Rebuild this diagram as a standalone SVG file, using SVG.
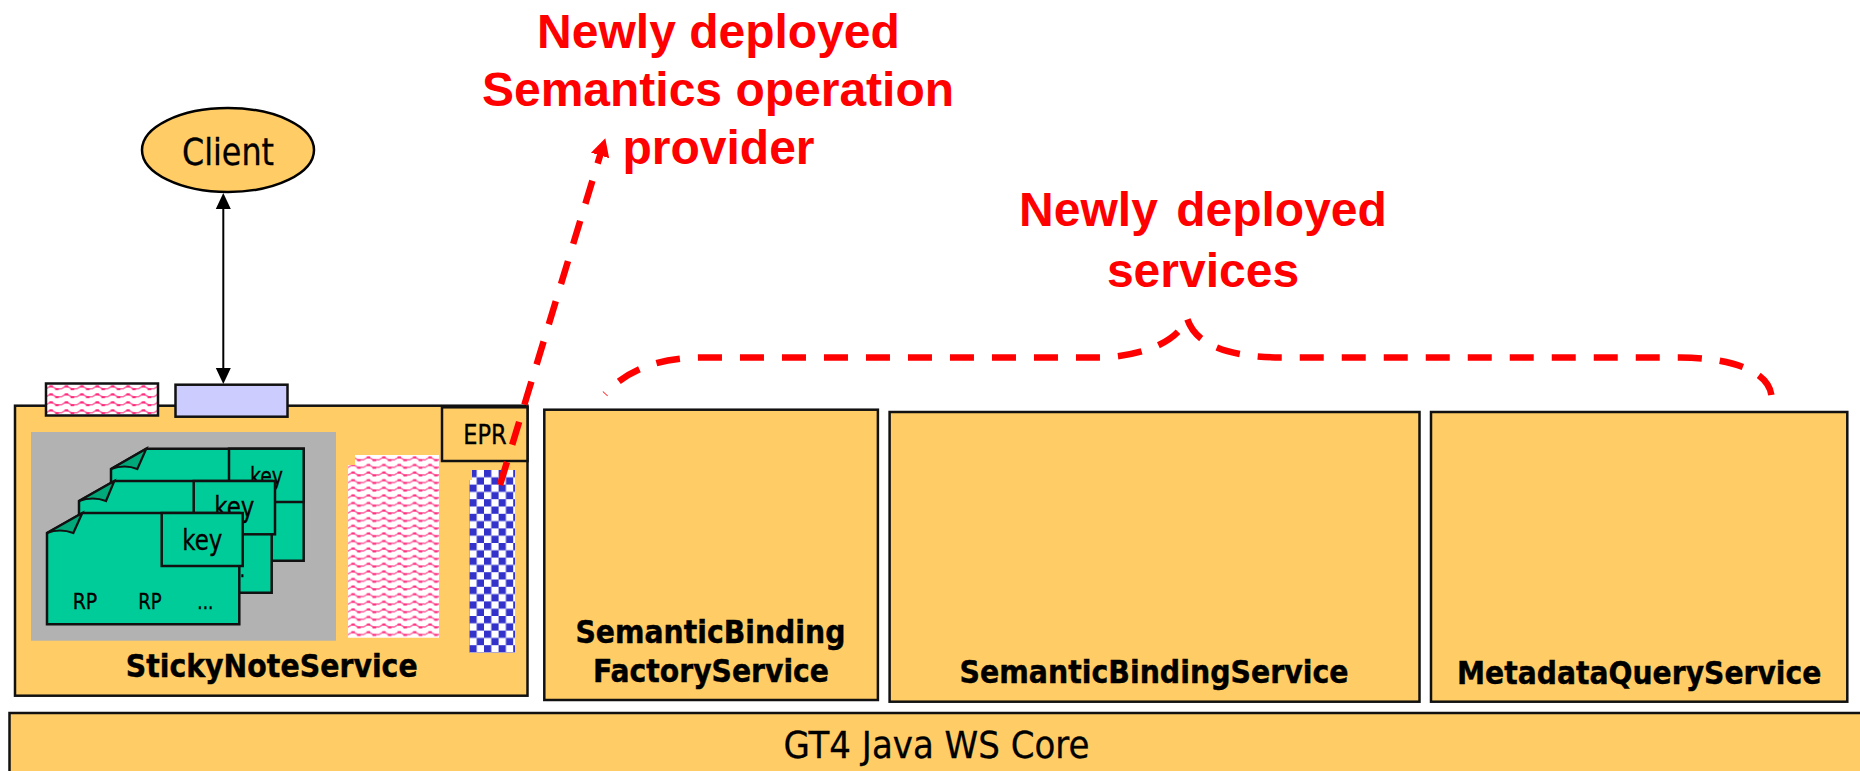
<svg xmlns="http://www.w3.org/2000/svg" width="1860" height="771" viewBox="0 0 1860 771">
<style>
.box{fill:#ffcc66;stroke:#111;stroke-width:2.5}
.note{fill:#00cc99;stroke:#111;stroke-width:2.5;stroke-linejoin:miter}
.fold{fill:#00a87a;stroke:#111;stroke-width:2.2}
.t{font-family:"DejaVu Sans Condensed","DejaVu Sans",sans-serif;fill:#000;stroke:#000;stroke-width:.3}
.b{font-family:"DejaVu Sans Condensed","DejaVu Sans",sans-serif;font-weight:700;font-size:32.5px;fill:#000;stroke:#000;stroke-width:.4}
.r{font-family:"Liberation Sans",Arial,sans-serif;font-weight:700;font-size:48px;fill:#ff0000;text-anchor:middle}
.dash{fill:none;stroke:#ff0000;stroke-width:6.5;stroke-dasharray:24 18}
.wl{fill:none;stroke:#ff70a6;stroke-width:1.6}
.wd{fill:#ff2a7f}
</style>
<defs>
<g id="w">
<path class="wl" d="M-1 5C1.5 5 2.5 2.4 5 2.4S8.5 5 11 5S13.5 4.2 16.4 5"/>
<rect class="wd" x="3.4" y="1.4" width="3.4" height="2"/>
<rect class="wd" x="9.2" y="4.2" width="3.6" height="2"/>
</g>
<pattern id="wave" patternUnits="userSpaceOnUse" width="15.4" height="7.6" patternTransform="translate(348,455)">
<rect width="15.4" height="7.6" fill="#fff"/>
<use href="#w"/>
</pattern>
<pattern id="wave2" patternUnits="userSpaceOnUse" width="15.4" height="8" patternTransform="translate(46,384)">
<rect width="15.4" height="8" fill="#fff"/>
<use href="#w"/>
</pattern>
<pattern id="check" patternUnits="userSpaceOnUse" width="14.6" height="14.6" patternTransform="translate(484,470)">
<rect width="14.6" height="14.6" fill="#fff"/>
<rect width="7.3" height="7.3" fill="#3333cc"/>
<rect x="7.3" y="7.3" width="7.3" height="7.3" fill="#3333cc"/>
</pattern>
<marker id="blk" markerUnits="userSpaceOnUse" markerWidth="16" markerHeight="16" refX="1" refY="8" orient="auto-start-reverse" viewBox="0 0 16 16">
<path d="M0 0.5L16 8L0 15.5Z" fill="#000"/>
</marker>
<marker id="red" markerUnits="userSpaceOnUse" markerWidth="18" markerHeight="19" refX="1" refY="9.5" orient="auto" viewBox="0 0 18 19">
<path d="M0 0L18 9.5L0 19Z" fill="#ff0000"/>
</marker>
</defs>
<rect width="1860" height="771" fill="#fff"/>

<g id="core">
<rect class="box" x="9.5" y="713" width="1870" height="80"/>
<text class="t" x="783.5" y="757.5" font-size="38" textLength="306" lengthAdjust="spacingAndGlyphs">GT4 Java WS Core</text>
</g>

<g id="sticky-note-service">
<rect class="box" x="15" y="405.7" width="512.5" height="290"/>
<rect x="31" y="432" width="305" height="208.7" fill="#b2b2b2"/>
<text class="b" x="125.7" y="677.3" textLength="292" lengthAdjust="spacingAndGlyphs">StickyNoteService</text>
</g>

<g id="note-back">
<path class="note" d="M111 469L146.3 448.7H303.7V560.7H111Z"/>
<path class="fold" d="M111 469L146.3 448.7L137.3 469Q125 464 111 469Z"/>
<rect class="note" x="229" y="448.7" width="74.7" height="53.3"/>
<text class="t" x="250" y="485" font-size="24" textLength="33" lengthAdjust="spacingAndGlyphs">key</text>
</g>
<g id="note-middle">
<path class="note" d="M79 501L114.3 481H271.7V592.7H79Z"/>
<path class="fold" d="M79 501L114.3 481L106 501Q93 496 79 501Z"/>
<text class="t" x="229" y="577" font-size="21" textLength="16" lengthAdjust="spacingAndGlyphs">...</text>
<rect class="note" x="193.7" y="481" width="81.3" height="53.3"/>
<text class="t" x="214.3" y="517" font-size="28" textLength="40" lengthAdjust="spacingAndGlyphs">key</text>
</g>
<g id="note-front">
<path class="note" d="M47 533L82.3 513H239.3V624.3H47Z"/>
<path class="fold" d="M47 533L82.3 513L73.3 533Q60 528 47 533Z"/>
<rect class="note" x="161.7" y="513" width="81" height="53"/>
<text class="t" x="182.3" y="550" font-size="28" textLength="40" lengthAdjust="spacingAndGlyphs">key</text>
<text class="t" x="72.7" y="609" font-size="21" textLength="24.6" lengthAdjust="spacingAndGlyphs">RP</text>
<text class="t" x="138.3" y="609" font-size="21" textLength="23.4" lengthAdjust="spacingAndGlyphs">RP</text>
<text class="t" x="197.3" y="609" font-size="21" textLength="16" lengthAdjust="spacingAndGlyphs">...</text>
</g>

<g id="pink-block">
<path d="M355 455H439V637.7H348V465H355Z" fill="url(#wave)"/>
</g>
<g id="blue-block">
<path d="M472 470H515V652.7H469V480H472Z" fill="url(#check)"/>
</g>
<g id="epr">
<rect class="box" x="442" y="407.3" width="85.5" height="53.7"/>
<text class="t" x="463.3" y="444" font-size="26" textLength="43.4" lengthAdjust="spacingAndGlyphs">EPR</text>
</g>
<g id="pink-port">
<rect x="46" y="383.5" width="112" height="32" fill="url(#wave2)" stroke="#111" stroke-width="2.5"/>
</g>
<g id="lavender-port">
<rect x="175.5" y="384.7" width="112" height="32" fill="#ccccff" stroke="#111" stroke-width="2.5"/>
</g>

<g id="client">
<ellipse cx="228" cy="150" rx="86" ry="42" fill="#ffcc66" stroke="#000" stroke-width="2.5"/>
<text class="t" x="182" y="165" font-size="38" textLength="92" lengthAdjust="spacingAndGlyphs">Client</text>
</g>

<g id="semantic-binding-factory-service">
<rect class="box" x="544.3" y="409.7" width="333.6" height="290.3"/>
<text class="b" x="575.4" y="643.3" textLength="270" lengthAdjust="spacingAndGlyphs">SemanticBinding</text>
<text class="b" x="593" y="681.7" textLength="236" lengthAdjust="spacingAndGlyphs">FactoryService</text>
</g>
<g id="semantic-binding-service">
<rect class="box" x="889.6" y="412" width="529.9" height="289.7"/>
<text class="b" x="959.5" y="683.3" textLength="389" lengthAdjust="spacingAndGlyphs">SemanticBindingService</text>
</g>
<g id="metadata-query-service">
<rect class="box" x="1431" y="412" width="416.3" height="289.7"/>
<text class="b" x="1457" y="684.3" textLength="364.4" lengthAdjust="spacingAndGlyphs">MetadataQueryService</text>
</g>

<g id="labels">
<text class="r" x="718.5" y="47.5">Newly deployed</text>
<text class="r" x="718" y="105.5">Semantics operation</text>
<text class="r" x="718.5" y="163.5">provider</text>
<text class="r" x="1203" y="225.5" word-spacing="5">Newly deployed</text>
<text class="r" x="1203" y="286.5">services</text>
</g>

<g id="connectors">
<line x1="223.3" y1="208" x2="223.3" y2="369" stroke="#000" stroke-width="2" marker-start="url(#blk)" marker-end="url(#blk)"/>
<line class="dash" x1="500" y1="485" x2="600.35" y2="154.5" marker-end="url(#red)"/>
<path class="dash" d="M1771.4 395C1768 372 1735 358 1680 357.5H1280C1235 357 1196 348 1187 318C1180 338 1150 356 1100 357.5H700C655 358 625 372 605 394"/>
</g>
</svg>
